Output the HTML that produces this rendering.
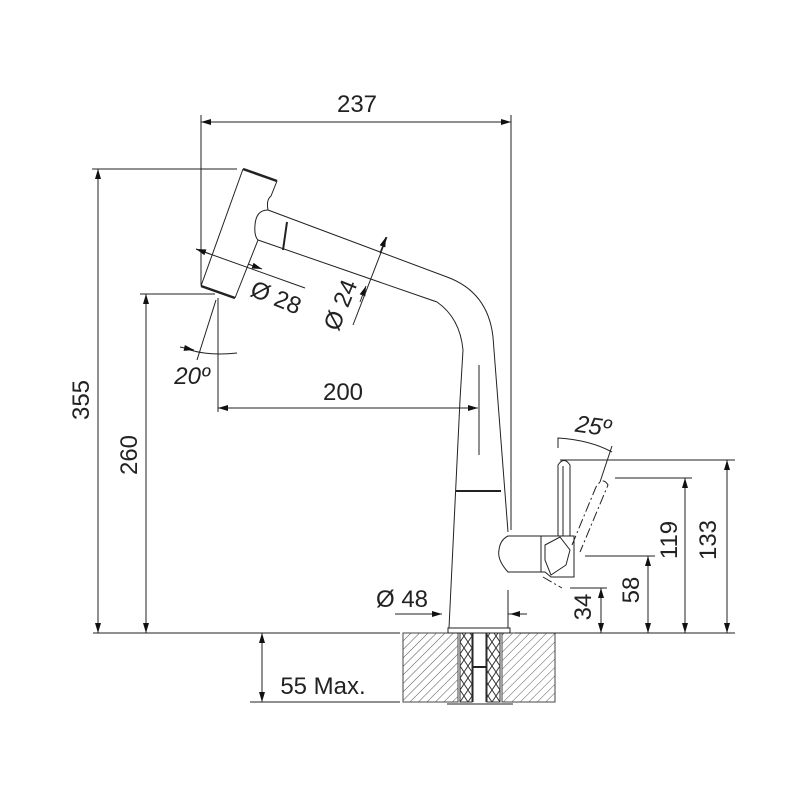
<!DOCTYPE html>
<html><head><style>html,body{margin:0;padding:0;background:#fff}svg{display:block}</style></head>
<body>
<svg width="800" height="800" viewBox="0 0 800 800" xmlns="http://www.w3.org/2000/svg" font-family="Liberation Sans, sans-serif" fill="none" stroke="#222" stroke-width="1">
<defs>
<pattern id="h" width="6" height="6" patternUnits="userSpaceOnUse" patternTransform="rotate(45)"><line x1="0" y1="0" x2="0" y2="6" stroke="#555" stroke-width="1"/></pattern>
<pattern id="x" width="8" height="12" patternUnits="userSpaceOnUse"><path d="M0 0 L8 12 M8 0 L0 12" stroke="#333" stroke-width="1"/></pattern>
<marker id="a" viewBox="0 0 10 6" refX="10" refY="3" markerWidth="11" markerHeight="6" orient="auto-start-reverse" markerUnits="userSpaceOnUse"><path d="M0 0 L10 3 L0 6z" fill="#111" stroke="none"/></marker>
</defs>
<rect x="403" y="633" width="55" height="69" fill="url(#h)" stroke="#444"/>
<rect x="502" y="633" width="53" height="69" fill="url(#h)" stroke="#444"/>
<rect x="460" y="633" width="12" height="69" fill="url(#x)" stroke="#333"/>
<rect x="487" y="633" width="13" height="69" fill="url(#x)" stroke="#333"/>
<line x1="473" y1="633" x2="473" y2="702"/><line x1="486" y1="633" x2="486" y2="702"/>
<line x1="473" y1="667" x2="486" y2="667" stroke-width="2"/>
<line x1="447" y1="704" x2="513" y2="704"/>
<line x1="93" y1="633" x2="400" y2="633"/><line x1="515" y1="633" x2="735" y2="633"/>
<rect x="448" y="628" width="62" height="5"/>
<path d="M449 628 L460 400 L463 350 Q460 318 437 302 L258 240"/>
<path d="M508 628 L508 590 M508 532 L493 337 Q488 292 447 277 L268 210"/>
<line x1="456" y1="491" x2="501" y2="491" stroke-width="2"/>
<line x1="479" y1="365" x2="479" y2="455"/>
<line x1="287" y1="222" x2="283" y2="250" stroke-width="2"/>
<path d="M243 169 L201 286"/>
<path d="M243 169 L277 181" stroke-width="2.5"/>
<path d="M201 286 L235 298" stroke-width="2.5"/>
<path d="M277 181 L271 196 Q266 200 268 210 Q256 210 255 225 Q254 236 258 240 L235 298"/>
<path d="M508 536 L574 536 L574 577 L551 577 L545 572 L508 572 Q497 560 499 550 Q500 540 508 536z"/>
<line x1="541" y1="536" x2="541" y2="572"/>
<path d="M545 545 L560 537 L570 550 L566 565 L551 575 L545 560z"/>
<path d="M558 536 L558 465 Q564 456 570 465 L570 536"/>
<line x1="563" y1="466" x2="563" y2="536"/>
<path d="M572 545 L596 487 Q603 476 608 485 L580 552" stroke-dasharray="10 3 2 3"/>
<path d="M543 577 L562 588" stroke-dasharray="10 3 2 3"/>
<path d="M558 448 L558 438 Q590 440 612 452" />
<line x1="612" y1="446" x2="600" y2="482"/>
<line x1="201" y1="115" x2="201" y2="285"/>
<line x1="511" y1="115" x2="511" y2="530"/>
<line x1="201" y1="122" x2="511" y2="122" marker-start="url(#a)" marker-end="url(#a)"/>
<line x1="92" y1="169" x2="237" y2="169"/>
<line x1="98" y1="169" x2="98" y2="633" marker-start="url(#a)" marker-end="url(#a)"/>
<line x1="140" y1="294" x2="215" y2="294"/>
<line x1="146" y1="294" x2="146" y2="633" marker-start="url(#a)" marker-end="url(#a)"/>
<line x1="218" y1="298" x2="218" y2="412"/>
<line x1="216" y1="300" x2="197" y2="360"/>
<path d="M190 350 Q210 356 237 353"/>
<path d="M180 347 L194 350" marker-end="url(#a)"/>
<line x1="196" y1="249" x2="305" y2="288"/>
<path d="M196 249 L210 254" marker-start="url(#a)"/>
<path d="M262 269 L248 264" marker-start="url(#a)"/>
<line x1="387" y1="237" x2="353" y2="325"/>
<path d="M380 253 L386 237" marker-end="url(#a)"/>
<path d="M366 286 L360 302" marker-start="url(#a)"/>
<line x1="218" y1="408" x2="478" y2="408" marker-start="url(#a)" marker-end="url(#a)"/>
<line x1="262" y1="633" x2="262" y2="702" marker-start="url(#a)" marker-end="url(#a)"/>
<line x1="250" y1="702" x2="400" y2="702"/>
<line x1="395" y1="614" x2="442" y2="614" marker-end="url(#a)"/>
<line x1="508" y1="614" x2="527" y2="614"/><path d="M527 614 L510 614" marker-end="url(#a)"/>
<line x1="560" y1="460" x2="735" y2="460"/>
<line x1="727" y1="460" x2="727" y2="633" marker-start="url(#a)" marker-end="url(#a)"/>
<line x1="615" y1="478" x2="692" y2="478"/>
<line x1="685" y1="478" x2="685" y2="633" marker-start="url(#a)" marker-end="url(#a)"/>
<line x1="585" y1="556" x2="655" y2="556"/>
<line x1="648" y1="556" x2="648" y2="633" marker-start="url(#a)" marker-end="url(#a)"/>
<line x1="570" y1="588" x2="607" y2="588"/>
<line x1="601" y1="588" x2="601" y2="633" marker-start="url(#a)" marker-end="url(#a)"/>
<g fill="#222" stroke="none" font-size="24">
<text x="357" y="112" text-anchor="middle">237</text>
<text x="343" y="400" text-anchor="middle">200</text>
<text x="323" y="694" text-anchor="middle">55 Max.</text>
<text x="402" y="607" text-anchor="middle">Ø 48</text>
<text transform="translate(89,400) rotate(-90)" text-anchor="middle">355</text>
<text transform="translate(137,455) rotate(-90)" text-anchor="middle">260</text>
<text transform="translate(273,305) rotate(22)" text-anchor="middle">Ø 28</text>
<text transform="translate(348,308) rotate(-68)" text-anchor="middle">Ø 24</text>
<text x="192" y="384" text-anchor="middle" font-style="italic">20º</text>
<text x="592" y="434" text-anchor="middle" transform="rotate(8 592 434)" font-style="italic">25º</text>
<text transform="translate(591,607) rotate(-90)" text-anchor="middle">34</text>
<text transform="translate(639,590) rotate(-90)" text-anchor="middle">58</text>
<text transform="translate(677,540) rotate(-90)" text-anchor="middle">119</text>
<text transform="translate(716,540) rotate(-90)" text-anchor="middle">133</text>
</g>
</svg>
</body></html>
